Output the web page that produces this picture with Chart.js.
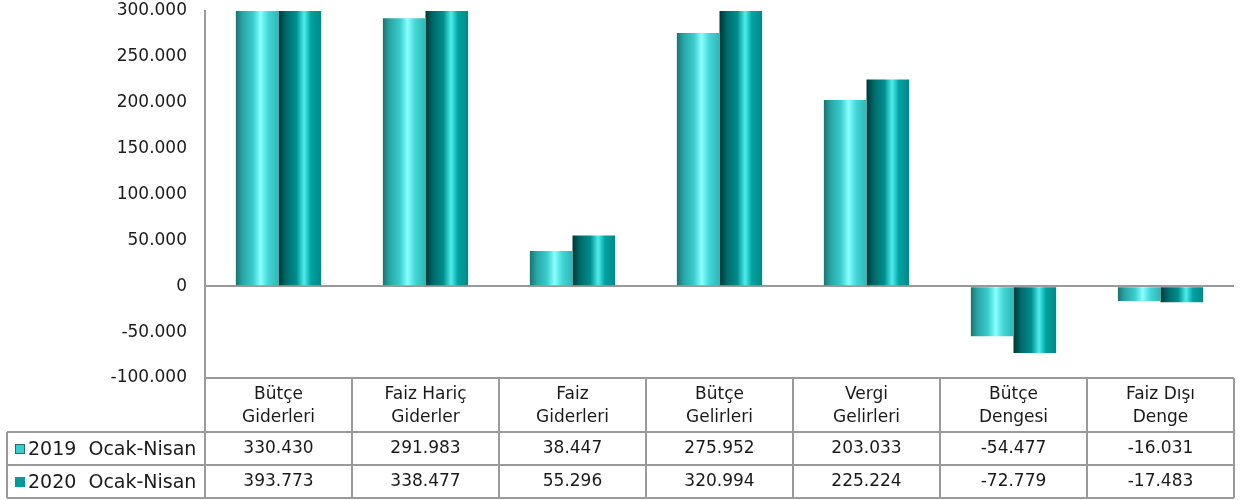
<!DOCTYPE html>
<html>
<head>
<meta charset="utf-8">
<script src="https://cdn.jsdelivr.net/npm/chart.js@4/dist/chart.umd.min.js"></script>
<style>
  html, body { margin: 0; padding: 0; background: #fff; }
  #wrap { width: 1254px; height: 500px; position: relative; }
</style>
</head>
<body>
<div id="wrap"><canvas id="myChart"></canvas></div>
<script>
'use strict';

// chart data
let categories = [
  ['Bütçe', 'Giderleri'],
  ['Faiz Hariç', 'Giderler'],
  ['Faiz', 'Giderleri'],
  ['Bütçe', 'Gelirleri'],
  ['Vergi', 'Gelirleri'],
  ['Bütçe', 'Dengesi'],
  ['Faiz Dışı', 'Denge']
];
let seriesNames = ['2019  Ocak-Nisan', '2020  Ocak-Nisan'];
let values2019 = [330430, 291983, 38447, 275952, 203033, -54477, -16031];
let values2020 = [393773, 338477, 55296, 320994, 225224, -72779, -17483];
let yTicks = [-100000, -50000, 0, 50000, 100000, 150000, 200000, 250000, 300000];

// cylinder shading, left to right
let shades = [
  [[0, '#1c7272'], [0.15, '#28a4a4'], [0.4, '#3acccc'], [0.58, '#8affff'], [0.76, '#42d6d6'], [1, '#2fb6b6']],
  [[0, '#003636'], [0.18, '#006a6a'], [0.42, '#008e8e'], [0.6, '#4eeeee'], [0.76, '#00a2a2'], [1, '#008888']]
];
let swatch = ['#36cfcf', '#009c9c'];

let fontFamily = '"DejaVu Sans", sans-serif';
let fontSize = 17;
let textColor = '#1a1a1a';
let lineColor = '#9a9a9a';

// format number with dot as thousands separator
function fmt(v) {
  let s = Math.abs(v).toString().replace(/\B(?=(\d{3})+(?!\d))/g, '.');
  return (v < 0 ? '-' : '') + s;
}

// gives every bar a horizontal gradient so it looks like a cylinder
let cylinderPlugin = {
  id: 'cylinder',
  beforeDatasetsDraw(chart) {
    let ctx = chart.ctx;
    chart.data.datasets.forEach((ds, di) => {
      let meta = chart.getDatasetMeta(di);
      meta.data.forEach((bar) => {
        let left = bar.x - bar.width / 2;
        let g = ctx.createLinearGradient(left, 0, left + bar.width, 0);
        shades[di].forEach(st => g.addColorStop(st[0], st[1]));
        bar.options.backgroundColor = g;
      });
    });
  }
};

// data table under the plot
let tablePlugin = {
  id: 'dataTable',
  afterDraw(chart) {
    let ctx = chart.ctx;
    let area = chart.chartArea;
    let xScale = chart.scales.x;
    let colW = (area.right - area.left) / categories.length;
    let top = area.bottom;
    let headBottom = top + 54;
    let row1Bottom = headBottom + 33;
    let row2Bottom = row1Bottom + 33;
    let legendLeft = 7;

    ctx.save();
    ctx.strokeStyle = lineColor;
    ctx.lineWidth = 2;
    ctx.beginPath();
    // horizontal lines
    ctx.moveTo(area.left, top); ctx.lineTo(area.right, top);
    ctx.moveTo(legendLeft, headBottom); ctx.lineTo(area.right, headBottom);
    ctx.moveTo(legendLeft, row1Bottom); ctx.lineTo(area.right, row1Bottom);
    ctx.moveTo(legendLeft, row2Bottom); ctx.lineTo(area.right, row2Bottom);
    // vertical lines
    ctx.moveTo(legendLeft, headBottom); ctx.lineTo(legendLeft, row2Bottom);
    for (let i = 0; i <= categories.length; i++) {
      let x = area.left + i * colW;
      ctx.moveTo(x, top); ctx.lineTo(x, row2Bottom);
    }
    ctx.stroke();

    ctx.fillStyle = textColor;
    ctx.font = fontSize + 'px ' + fontFamily;
    ctx.textAlign = 'center';
    ctx.textBaseline = 'middle';
    for (let i = 0; i < categories.length; i++) {
      let cx = xScale.getPixelForValue(i);
      ctx.fillText(categories[i][0], cx, top + 17);
      ctx.fillText(categories[i][1], cx, top + 40);
      ctx.fillText(fmt(values2019[i]), cx, headBottom + 17);
      ctx.fillText(fmt(values2020[i]), cx, row1Bottom + 17);
    }

    // legend column
    ctx.textAlign = 'left';
    ctx.font = '19px ' + fontFamily;
    let rowsY = [headBottom + 17, row1Bottom + 17];
    for (let s = 0; s < 2; s++) {
      ctx.fillStyle = swatch[s];
      ctx.fillRect(15, rowsY[s] - 5, 10, 10);
      if (s === 0) {
        ctx.strokeStyle = '#2a6b6b';
        ctx.lineWidth = 1;
        ctx.strokeRect(15.5, rowsY[s] - 4.5, 9, 9);
      }
      ctx.fillStyle = textColor;
      ctx.fillText(seriesNames[s], 28, rowsY[s] + 1);
    }
    ctx.restore();
  }
};

let ctx = document.getElementById('myChart').getContext('2d');
let myChart = new Chart(ctx, {
  type: 'bar',
  data: {
    labels: categories,
    datasets: [{
      label: seriesNames[0],
      data: values2019,
      backgroundColor: () => swatch[0],
      borderWidth: 0
    }, {
      label: seriesNames[1],
      data: values2020,
      backgroundColor: () => swatch[1],
      borderWidth: 0
    }]
  },
  options: {
    responsive: true,
    maintainAspectRatio: false,
    animation: false,
    categoryPercentage: 0.58,
    barPercentage: 1.0,
    layout: {
      padding: { top: 11, right: 20, bottom: 122, left: 0 }
    },
    plugins: {
      legend: { display: false },
      tooltip: { enabled: false }
    },
    scales: {
      x: {
        display: false
      },
      y: {
        min: -100000,
        max: 300000,
        afterFit(scale) {
          scale.width = 205;
          scale.paddingTop = 0;
          scale.paddingBottom = 0;
        },
        afterBuildTicks(scale) {
          scale.ticks = yTicks.map(v => ({ value: v }));
        },
        border: { display: true, color: lineColor, width: 2 },
        grid: {
          drawTicks: false,
          lineWidth: 2,
          color: (c) => (c.tick && c.tick.value === 0 ? lineColor : 'rgba(0,0,0,0)')
        },
        ticks: {
          padding: 18,
          color: textColor,
          font: { family: fontFamily, size: fontSize },
          callback: (v) => fmt(v)
        }
      }
    }
  },
  plugins: [cylinderPlugin, tablePlugin]
});
</script>
</body>
</html>
